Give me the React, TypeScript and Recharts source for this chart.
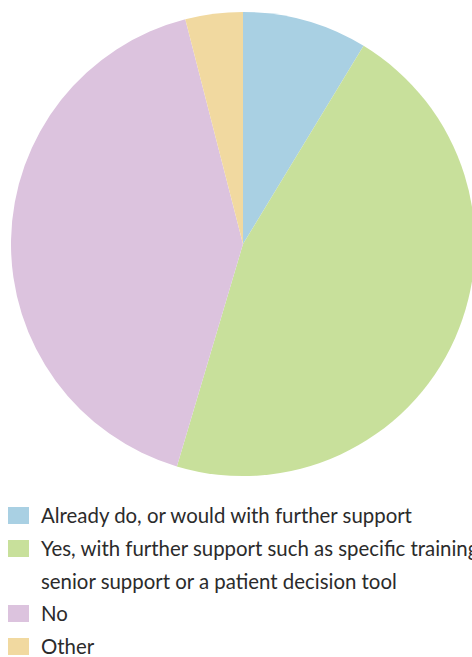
import React from "react";
import { PieChart, Pie, Cell } from "recharts";

const categories = [
  "Already do, or would with further support",
  "Yes, with further support such as specific training, senior support or a patient decision tool",
  "No",
  "Other",
];
const values = [8.7, 45.9, 41.4, 4.0];
const colors = ["#a9d0e3", "#c8e09b", "#dcc3de", "#f1d9a0"];
const legendLines = [
  ["Already do, or would with further support"],
  ["Yes, with further support such as specific training,", "senior support or a patient decision tool"],
  ["No"],
  ["Other"],
];

const data = categories.map((name, i) => ({ name, value: values[i] }));

export default function App() {
  return (
    <div style={{ position: "absolute", left: 0, top: 0, width: 472, height: 657, overflow: "hidden", background: "#fff" }}>
      <PieChart width={480} height={490} margin={{ top: 0, right: 0, bottom: 0, left: 0 }}>
        <Pie
          data={data}
          dataKey="value"
          nameKey="name"
          cx={243}
          cy={244}
          outerRadius={232}
          startAngle={90}
          endAngle={-270}
          stroke="none"
          isAnimationActive={false}
        >
          {data.map((d, i) => (
            <Cell key={d.name} fill={colors[i]} />
          ))}
        </Pie>
      </PieChart>
      <div
        style={{
          position: "absolute",
          left: 8,
          top: 499,
          fontFamily: "Lato, 'Open Sans', sans-serif",
          fontSize: 20.4,
          color: "#2b2b2b",
        }}
      >
        {legendLines.map((lines, i) => (
          <div key={i}>
            {lines.map((ln, j) => (
              <div
                key={j}
                style={{ position: "relative", height: 32.8, lineHeight: "32.8px", whiteSpace: "nowrap", paddingLeft: 33 }}
              >
                {j === 0 && (
                  <span style={{ position: "absolute", left: 0, top: 8, width: 21, height: 17, background: colors[i] }} />
                )}
                {ln}
              </div>
            ))}
          </div>
        ))}
      </div>
    </div>
  );
}
